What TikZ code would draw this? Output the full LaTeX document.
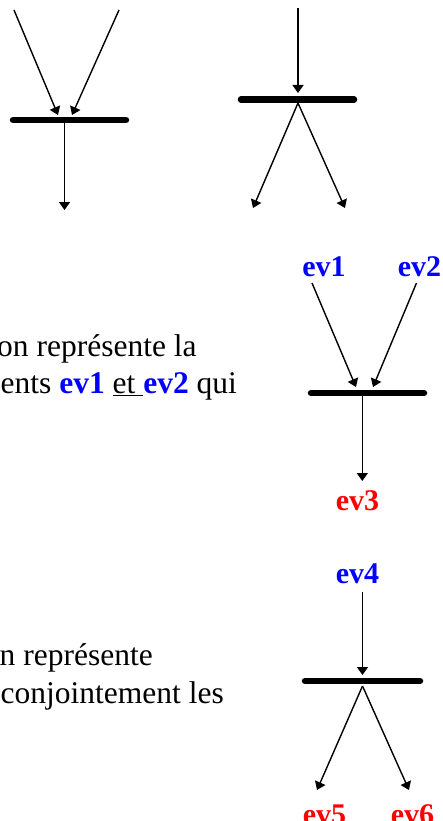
\documentclass[tikz,border=0pt]{standalone}
\usepackage{fontspec}
\setmainfont{Liberation Serif}
\usetikzlibrary{arrows.meta}
\definecolor{evblue}{RGB}{0,0,255}
\definecolor{evred}{RGB}{255,0,0}
\tikzset{
  conn/.style={line width=1.4pt,-{Triangle[width=11pt,length=8pt]}},
  synchbar/.style={line width=6.5pt,line cap=round},
  bodytext/.style={anchor=base west,inner sep=0pt,font=\fontsize{31.5}{37}\selectfont},
  evlabel/.style={anchor=base,inner sep=0pt,font=\fontsize{30}{36}\selectfont\bfseries},
  evin/.style={evlabel,text=evblue},
  evout/.style={evlabel,text=evred},
}
\begin{document}
\begin{tikzpicture}[x=1pt,y=-1pt]
\useasboundingbox (0,0) rectangle (443,821);
\clip (0,0) rectangle (443,821);
% ---------- top left: synchronisation (join)
\coordinate (tlA) at (14,10);
\coordinate (tlB) at (119,10);
\coordinate (tlL) at (13,120);
\coordinate (tlR) at (126,120);
\coordinate (tlT1) at (58,115);
\coordinate (tlT2) at (72,115);
\coordinate (tlO) at (64.5,120);
\coordinate (tlE) at (64.5,210);
\draw[synchbar] (tlL) -- (tlR);
\draw[conn] (tlA) -- (tlT1);
\draw[conn] (tlB) -- (tlT2);
\draw[conn] (tlO) -- (tlE);
% ---------- top right: fork
\coordinate (trA) at (298,8);
\coordinate (trT) at (298,93);
\coordinate (trL) at (241,99.5);
\coordinate (trR) at (354,99.5);
\coordinate (trO) at (298,103);
\coordinate (trE1) at (253,208);
\coordinate (trE2) at (345,208);
\draw[synchbar] (trL) -- (trR);
\draw[conn] (trA) -- (trT);
\draw[conn] (trO) -- (trE1);
\draw[conn] (trO) -- (trE2);
% ---------- middle text
\node[bodytext] (t1) at (-3,356) {on représente la};
\node[bodytext] (t2) at (0.5,393) {ents \textbf{\textcolor{evblue}{ev1}} \underline{et }\textbf{\textcolor{evblue}{ev2}} qui};
% ---------- middle diagram
\node[evin] (ev1) at (324,276) {ev1};
\node[evin] (ev2) at (419.5,276) {ev2};
\node[evout] (ev3) at (357.5,510) {ev3};
\coordinate (mL) at (311,393);
\coordinate (mR) at (424,393);
\coordinate (mA1) at (312,283);
\coordinate (mA2) at (416.5,283);
\coordinate (mT1) at (356,387);
\coordinate (mT2) at (373,387);
\coordinate (mO) at (362.3,395);
\coordinate (mE) at (362.3,481);
\draw[synchbar] (mL) -- (mR);
\draw[conn] (mA1) -- (mT1);
\draw[conn] (mA2) -- (mT2);
\draw[conn] (mO) -- (mE);
% ---------- bottom text
\node[bodytext] (t3) at (-0.5,665) {n représente};
\node[bodytext] (t4) at (0.5,703) {conjointement les};
% ---------- bottom diagram
\node[evin] (ev4) at (357.5,583) {ev4};
\node[evout] (ev5) at (324.5,824) {ev5};
\node[evout] (ev6) at (412.5,824) {ev6};
\coordinate (bL) at (305,681);
\coordinate (bR) at (420,681);
\coordinate (bA) at (362.5,592);
\coordinate (bT) at (362.5,675);
\coordinate (bO) at (362.5,686);
\coordinate (bE1) at (317,790);
\coordinate (bE2) at (409,790);
\draw[synchbar] (bL) -- (bR);
\draw[conn] (bA) -- (bT);
\draw[conn] (bO) -- (bE1);
\draw[conn] (bO) -- (bE2);
\end{tikzpicture}
\end{document}
